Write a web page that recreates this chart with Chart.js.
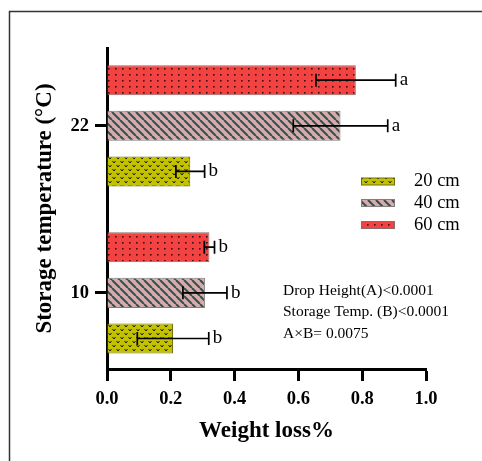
<!DOCTYPE html>
<html><head><meta charset="utf-8">
<script src="https://cdn.jsdelivr.net/npm/chart.js@4.4.0/dist/chart.umd.min.js"></script>
<style>html,body{margin:0;padding:0;background:#fff;} #wrap{width:482px;height:461px;}</style>
</head><body><div id="wrap"><canvas id="c" width="482" height="461"></canvas></div>
<script>
// ---- data ----
const temperatures = ['22', '10'];
const seriesLabels = ['20 cm', '40 cm', '60 cm'];
const loss20 = [0.261, 0.207];
const loss40 = [0.732, 0.307];
const loss60 = [0.780, 0.321];
const err20 = [0.045, 0.112];
const err40 = [0.148, 0.069];
const err60 = [0.125, 0.016];
const letters20 = ['b', 'b'];
const letters40 = ['a', 'b'];
const letters60 = ['a', 'b'];
const xTicks = [0, 0.2, 0.4, 0.6, 0.8, 1.0];
const yTicks = [22, 10];
const notes = ['Drop Height(A)<0.0001', 'Storage Temp. (B)<0.0001', 'A\u00d7B= 0.0075'];

const SERIF = '"Liberation Serif", "Times New Roman", serif';
const canvas = document.getElementById('c');
const ctx = canvas.getContext('2d');

function makePattern(w, h, draw) {
  const c = document.createElement('canvas'); c.width = w; c.height = h;
  const g = c.getContext('2d'); draw(g, w, h);
  return ctx.createPattern(c, 'repeat');
}
const pat20 = makePattern(8, 8, (g, w, h) => {
  g.fillStyle = '#c2c200'; g.fillRect(0, 0, w, h);
  g.strokeStyle = '#1c1c00'; g.lineWidth = 1;
  const v = (x, y) => { g.beginPath(); g.moveTo(x, y); g.lineTo(x + 1.5, y + 2); g.lineTo(x + 3, y); g.stroke(); };
  v(0.5, 1); v(4.5, 5);
});
const pat40 = makePattern(8, 8, (g, w, h) => {
  g.fillStyle = '#d6abab'; g.fillRect(0, 0, w, h);
  g.strokeStyle = '#34504e'; g.lineWidth = 2;
  for (const k of [-8, 0, 8]) { g.beginPath(); g.moveTo(k, 0); g.lineTo(k + 8, 8); g.stroke(); }
});
const pat60 = makePattern(7, 6, (g, w, h) => {
  g.fillStyle = '#f24242'; g.fillRect(0, 0, w, h);
  g.fillStyle = '#3a1010'; g.fillRect(3, 2, 1.6, 1.6);
});

const framePlugin = {
  id: 'frame',
  beforeDraw(chart) {
    const c = chart.ctx; c.save();
    c.fillStyle = '#fff'; c.fillRect(0, 0, chart.width, chart.height);
    c.strokeStyle = '#333'; c.lineWidth = 1.5;
    c.strokeRect(9.5, 11.5, 600, 600);
    c.restore();
  }
};

const errorPlugin = {
  id: 'errbars',
  afterDatasetsDraw(chart) {
    const c = chart.ctx; const xs = chart.scales.x;
    chart.data.datasets.forEach((ds, di) => {
      const meta = chart.getDatasetMeta(di);
      meta.data.forEach((bar, i) => {
        const v = ds.data[i], e = ds.errors[i];
        const x1 = xs.getPixelForValue(v - e), x2 = xs.getPixelForValue(v + e), y = bar.y;
        c.save(); c.strokeStyle = '#000'; c.lineWidth = 1.7;
        c.beginPath();
        c.moveTo(x1, y); c.lineTo(x2, y);
        c.moveTo(x1, y - 6.5); c.lineTo(x1, y + 6.5);
        c.moveTo(x2, y - 6.5); c.lineTo(x2, y + 6.5);
        c.stroke();
        c.fillStyle = '#000'; c.font = '19px ' + SERIF; c.textBaseline = 'middle'; c.textAlign = 'left';
        c.fillText(ds.letters[i], x2 + 4, y);
        c.restore();
      });
    });
  }
};

const legendPlugin = {
  id: 'customLegend',
  afterDraw(chart) {
    const c = chart.ctx; c.save();
    const order = [2, 1, 0];
    const ys = [181.5, 203, 225];
    order.forEach((di, k) => {
      const ds = chart.data.datasets[di];
      c.fillStyle = ds.backgroundColor; c.fillRect(361, ys[k] - 3.5, 34, 7);
      c.strokeStyle = ds.borderColor; c.lineWidth = 1; c.strokeRect(361.5, ys[k] - 3.5, 33, 7);
      c.fillStyle = '#000'; c.font = '18.5px ' + SERIF; c.textBaseline = 'middle'; c.textAlign = 'left';
      c.fillText(ds.label, 414, ys[k]);
    });
    c.restore();
  }
};

const notesPlugin = {
  id: 'notes',
  afterDraw(chart) {
    const c = chart.ctx; c.save();
    c.fillStyle = '#000'; c.font = '15.5px ' + SERIF; c.textBaseline = 'middle'; c.textAlign = 'left';
    notes.forEach((t, i) => c.fillText(t, 283, 290.5 + i * 21.5));
    c.restore();
  }
};

const tickFont = { family: SERIF, size: 18.5, weight: 'bold' };
const titleFont = { family: SERIF, size: 23, weight: 'bold' };
const borderOpts = { display: true, color: '#000', width: 3 };

new Chart(ctx, {
  type: 'bar',
  data: {
    labels: temperatures,
    datasets: [
      { label: seriesLabels[2], data: loss60, errors: err60, letters: letters60, backgroundColor: pat60, borderColor: '#8a6a6a', borderWidth: 1 },
      { label: seriesLabels[1], data: loss40, errors: err40, letters: letters40, backgroundColor: pat40, borderColor: '#7e7e7e', borderWidth: 1 },
      { label: seriesLabels[0], data: loss20, errors: err20, letters: letters20, backgroundColor: pat20, borderColor: '#6e6e10', borderWidth: 1 }
    ]
  },
  options: {
    indexAxis: 'y', responsive: false, animation: false, devicePixelRatio: 1,
    categoryPercentage: 0.82, barPercentage: 0.658,
    layout: { padding: { top: 48, right: 56, bottom: 0, left: 10 } },
    plugins: { legend: { display: false }, tooltip: { enabled: false } },
    scales: {
      x: {
        type: 'linear', min: 0, max: 1, offset: false,
        afterBuildTicks: s => { s.ticks = xTicks.map(v => ({ value: v })); },
        ticks: { callback: v => Number(v).toFixed(1), color: '#000', font: tickFont, padding: 7, maxRotation: 0, autoSkip: false },
        grid: { offset: false, drawOnChartArea: false, drawTicks: true, tickLength: 12, tickWidth: 3, tickColor: '#000' },
        border: borderOpts,
        title: { display: true, text: 'Weight loss%', color: '#000', font: titleFont, padding: { top: 0, bottom: 16 } },
        afterFit: s => { s.height = 92; s.paddingLeft = 0; s.paddingRight = 0; }
      },
      y: {
        type: 'linear', min: 4.53, max: 27.59, offset: false,
        afterBuildTicks: s => { s.ticks = yTicks.map(v => ({ value: v })); },
        ticks: { color: '#000', font: tickFont, padding: 6, autoSkip: false },
        grid: { offset: false, drawOnChartArea: false, drawTicks: true, tickLength: 12, tickWidth: 3, tickColor: '#000' },
        border: borderOpts,
        title: { display: true, text: 'Storage temperature (\u00b0C)', color: '#000', font: titleFont, padding: { top: 21, bottom: 0 } },
        afterFit: s => { s.width = 97; s.paddingTop = 0; s.paddingBottom = 0; }
      }
    }
  },
  plugins: [framePlugin, errorPlugin, legendPlugin, notesPlugin]
});
</script>
</body></html>
